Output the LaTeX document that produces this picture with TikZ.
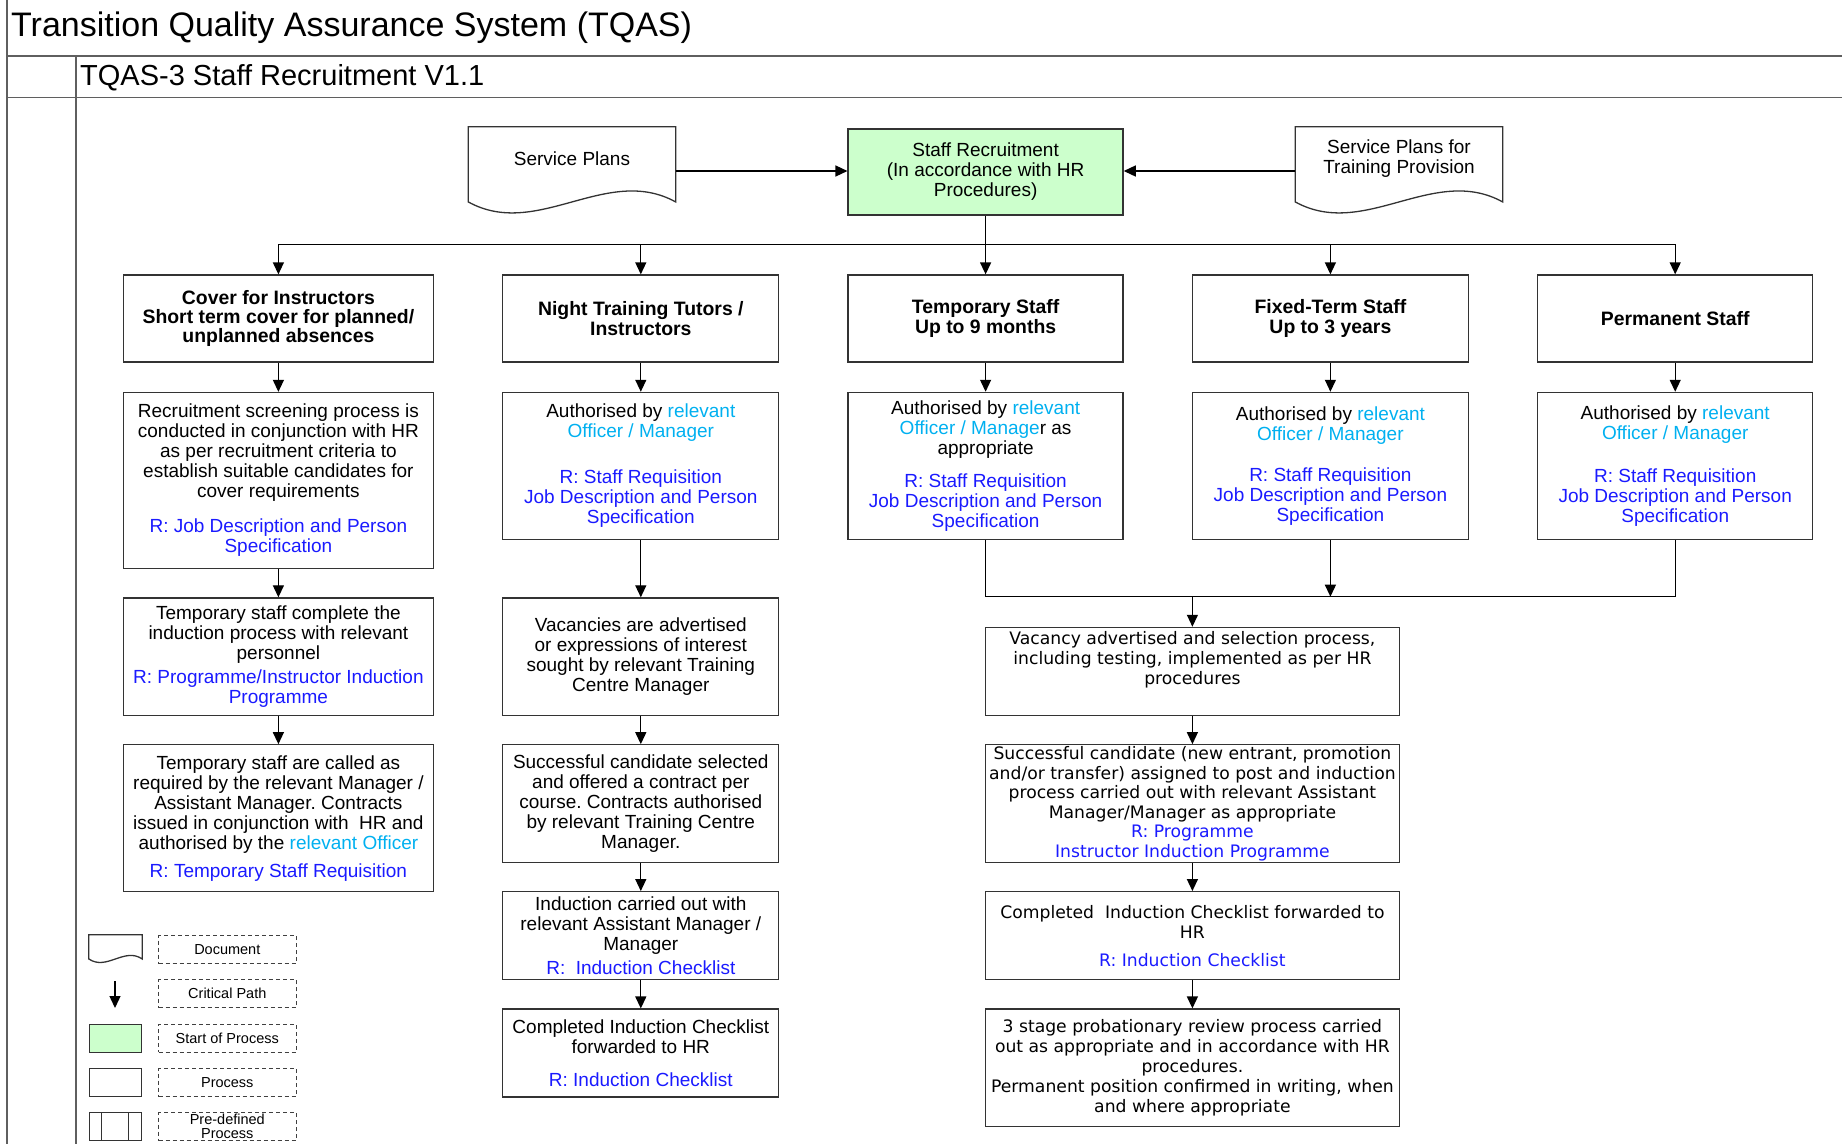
\documentclass[tikz,border=0pt]{standalone}
\usepackage{fontspec}
\setmainfont{Liberation Sans}
\newfontfamily\widefont{DejaVu Sans}
\usetikzlibrary{arrows.meta,calc}
\frenchspacing
\definecolor{startgreen}{RGB}{204,255,204}
\definecolor{refblue}{RGB}{26,26,255}
\definecolor{refcyan}{RGB}{0,176,240}
\definecolor{framegray}{RGB}{95,95,95}
\newcommand{\rf}[1]{\textcolor{refblue}{#1}}
\newcommand{\cy}[1]{\textcolor{refcyan}{#1}}
\newcommand{\docoutline}[1]{%
  \draw[docline] let \p1=(#1.south west), \p2=(#1.north east), \n1={\y2-\y1} in
    (\x1,\y2) -- (\x2,\y2) -- (\x2,{\y1+0.15*\n1})
    .. controls ({\x1+0.667*(\x2-\x1)},{\y1+0.58*\n1}) and ({\x1+0.333*(\x2-\x1)},{\y1-0.28*\n1})
    .. (\x1,{\y1+0.15*\n1}) -- cycle;}
\tikzset{
  every node/.style={font=\fontsize{19}{20}\selectfont, align=center},
  box/.style={draw=black!80, line width=1.3pt, inner sep=0pt},
  head/.style={box, font=\bfseries\fontsize{19.4}{19.4}\selectfont},
  wide/.style={box, font=\widefont\fontsize{17.2}{20}\selectfont},
  doc/.style={inner sep=0pt},
  docline/.style={draw=black!80, line width=1.3pt},
  flow/.style={line width=1.3pt, -{Triangle[length=12pt,width=11pt]}},
  link/.style={line width=1.3pt},
  frame/.style={draw=framegray, line width=1.5pt},
  key/.style={draw=black!75, line width=1pt, dash pattern=on 4pt off 3pt, inner sep=0pt,
    minimum width=137.5pt, minimum height=28pt, font=\fontsize{14.5}{15}\selectfont},
  keyshape/.style={box, line width=1pt, minimum width=52pt, minimum height=28pt},
}
\begin{document}
\begin{tikzpicture}[x=1pt,y=-1pt]
  \useasboundingbox (0,0) rectangle (1842,1144);
  \draw[frame] (7,0) -- (7,1144) (7,56) -- (1842,56) (7,97.5) -- (1842,97.5) (76,56) -- (76,1144);
  \node[anchor=west, inner sep=0pt, font=\fontsize{34}{36}\selectfont] (title) at (11,28) {Transition Quality Assurance System (TQAS)};
  \node[anchor=west, inner sep=0pt, font=\fontsize{29}{30}\selectfont] (subtitle) at (80,78) {TQAS-3 Staff Recruitment V1.1};

  \node[doc, minimum width=207pt, minimum height=88pt, label={[yshift=12pt]center:Service Plans}] (svc) at (572,171) {};
  \node[box, fill=startgreen, minimum width=275pt, minimum height=86pt] (start) at (985.6,172) {Staff Recruitment\\(In accordance with HR\\Procedures)};
  \node[doc, minimum width=207pt, minimum height=88pt, label={[yshift=12pt]center:Service Plans for\\Training Provision}] (trn) at (1399,171) {};
  \docoutline{svc}
  \docoutline{trn}
  \draw[flow] (svc.east) -- (svc.east -| start.west);
  \draw[flow] (trn.west) -- (trn.west -| start.east);

  \node[head, minimum width=310pt, minimum height=87pt] (hcover) at (278.4,318.5) {Cover for Instructors\\Short term cover for planned/\\unplanned absences};
  \node[head, minimum width=276pt, minimum height=87pt] (hnight) at (640.8,318.5) {Night Training Tutors /\\Instructors};
  \node[head, minimum width=275pt, minimum height=87pt] (htemp) at (985.6,318.5) {Temporary Staff\\Up to 9 months};
  \node[head, minimum width=276pt, minimum height=87pt] (hfixed) at (1330.4,318.5) {Fixed-Term Staff\\Up to 3 years};
  \node[head, minimum width=275pt, minimum height=87pt] (hperm) at (1675.2,318.5) {Permanent Staff};

  \coordinate (split) at (985.6,244.3);
  \draw[link] (start.south) -- (split);
  \draw[link] (split -| hcover) -- (split -| hperm);
  \foreach \h in {hcover,hnight,htemp,hfixed,hperm} \draw[flow] (split -| \h) -- (\h);

  \node[box, minimum width=310pt, minimum height=176pt] (c1) at (278.4,480.5) {Recruitment screening process is\\conducted in conjunction with HR\\as per recruitment criteria to\\establish suitable candidates for\\cover requirements\\[15pt]\rf{R: Job Description and Person}\\\rf{Specification}};
  \node[box, minimum width=310pt, minimum height=117.5pt] (c2) at (278.4,656.7) {Temporary staff complete the\\induction process with relevant\\personnel\\[4.5pt]\rf{R: Programme/Instructor Induction}\\\rf{Programme}};
  \node[box, minimum width=310pt, minimum height=146.8pt] (c3) at (278.4,818.2) {Temporary staff are called as\\required by the relevant Manager /\\Assistant Manager. Contracts\\issued in conjunction with\ \ HR and\\authorised by the \cy{relevant Officer}\\[8pt]\rf{R: Temporary Staff Requisition}};

  \node[box, minimum width=276pt, minimum height=146.8pt] (n1) at (640.8,465.8) {Authorised by \cy{relevant}\\\cy{Officer / Manager}\\[26pt]\rf{R: Staff Requisition}\\\rf{Job Description and Person}\\\rf{Specification}};
  \node[box, minimum width=276pt, minimum height=117.5pt] (n2) at (640.8,656.7) {Vacancies are advertised\\or expressions of interest\\sought by relevant Training\\Centre Manager};
  \node[box, minimum width=276pt, minimum height=117.4pt] (n3) at (640.8,803.5) {Successful candidate selected\\and offered a contract per\\course. Contracts authorised\\by relevant Training Centre\\Manager.};
  \node[box, minimum width=276pt, minimum height=88pt] (n4) at (640.8,935.7) {Induction carried out with\\relevant Assistant Manager /\\Manager\\[3.5pt]\rf{R:\ \ Induction Checklist}};
  \node[box, minimum width=276pt, minimum height=88pt] (n5) at (640.8,1053.1) {Completed Induction Checklist\\forwarded to HR\\[13pt]\rf{R: Induction Checklist}};

  \node[box, minimum width=275pt, minimum height=146.8pt] (t1) at (985.6,465.8) {Authorised by \cy{relevant}\\\cy{Officer / Manage}r as\\appropriate\\[13pt]\rf{R: Staff Requisition}\\\rf{Job Description and Person}\\\rf{Specification}};
  \node[box, minimum width=276pt, minimum height=146.8pt] (f1) at (1330.4,465.8) {Authorised by \cy{relevant}\\\cy{Officer / Manager}\\[21pt]\rf{R: Staff Requisition}\\\rf{Job Description and Person}\\\rf{Specification}};
  \node[box, minimum width=275pt, minimum height=146.8pt] (p1) at (1675.2,465.8) {Authorised by \cy{relevant}\\\cy{Officer / Manager}\\[23pt]\rf{R: Staff Requisition}\\\rf{Job Description and Person}\\\rf{Specification}};

  \node[wide, minimum width=413.5pt, minimum height=88pt] (r1) at (1192.4,671.4) {Vacancy advertised and selection process,\\including testing, implemented as per HR\\procedures\\\strut};
  \node[wide, minimum width=413.5pt, minimum height=117.4pt, font=\widefont\fontsize{17.2}{19.5}\selectfont] (r2) at (1192.4,803.5) {Successful candidate (new entrant, promotion\\and/or transfer) assigned to post and induction\\process carried out with relevant Assistant\\Manager/Manager as appropriate\\\rf{R: Programme}\\\rf{Instructor Induction Programme}};
  \node[wide, minimum width=413.5pt, minimum height=88pt] (r3) at (1192.4,935.7) {Completed\ \ Induction Checklist forwarded to\\HR\\[8pt]\rf{R: Induction Checklist}};
  \node[wide, minimum width=413.5pt, minimum height=117.5pt] (r4) at (1192.4,1067.8) {3 stage probationary review process carried\\out as appropriate and in accordance with HR\\procedures.\\Permanent position confirmed in writing, when\\and where appropriate};

  \foreach \a/\b in {hcover/c1,c1/c2,c2/c3,hnight/n1,n1/n2,n2/n3,n3/n4,n4/n5,htemp/t1,hfixed/f1,hperm/p1,r1/r2,r2/r3,r3/r4}
    \draw[flow] (\a) -- (\b);
  \coordinate (merge) at (1192.4,596.7);
  \draw[link] (t1) -- (t1 |- merge) -- (p1 |- merge) -- (p1);
  \draw[flow] (f1) -- (f1 |- merge);
  \draw[flow] (merge) -- (r1);

  \node[doc, minimum width=53pt, minimum height=28pt] (lgdoc) at (115.5,949) {};
  \docoutline{lgdoc}
  \node[key] (kdoc) at (227.3,949.5) {Document};
  \coordinate (lgtop) at (115,981);
  \coordinate (lgbot) at (115,1008);
  \draw[flow] (lgtop) -- (lgbot);
  \node[key] (kpath) at (227.3,993.8) {Critical Path};
  \node[keyshape, fill=startgreen] (lgstart) at (115,1038.4) {};
  \node[key] (kstart) at (227.3,1038.4) {Start of Process};
  \node[keyshape] (lgproc) at (115,1082.5) {};
  \node[key] (kproc) at (227.3,1082.5) {Process};
  \node[keyshape] (lgpre) at (115,1126.5) {};
  \foreach \f in {0.25,0.75}
    \draw[black!80, line width=1pt] ($(lgpre.north west)!\f!(lgpre.north east)$) -- ($(lgpre.south west)!\f!(lgpre.south east)$);
  \node[key, font=\fontsize{14.5}{14}\selectfont] (kpre) at (227.3,1126.5) {Pre-defined\\Process};
\end{tikzpicture}
\end{document}
